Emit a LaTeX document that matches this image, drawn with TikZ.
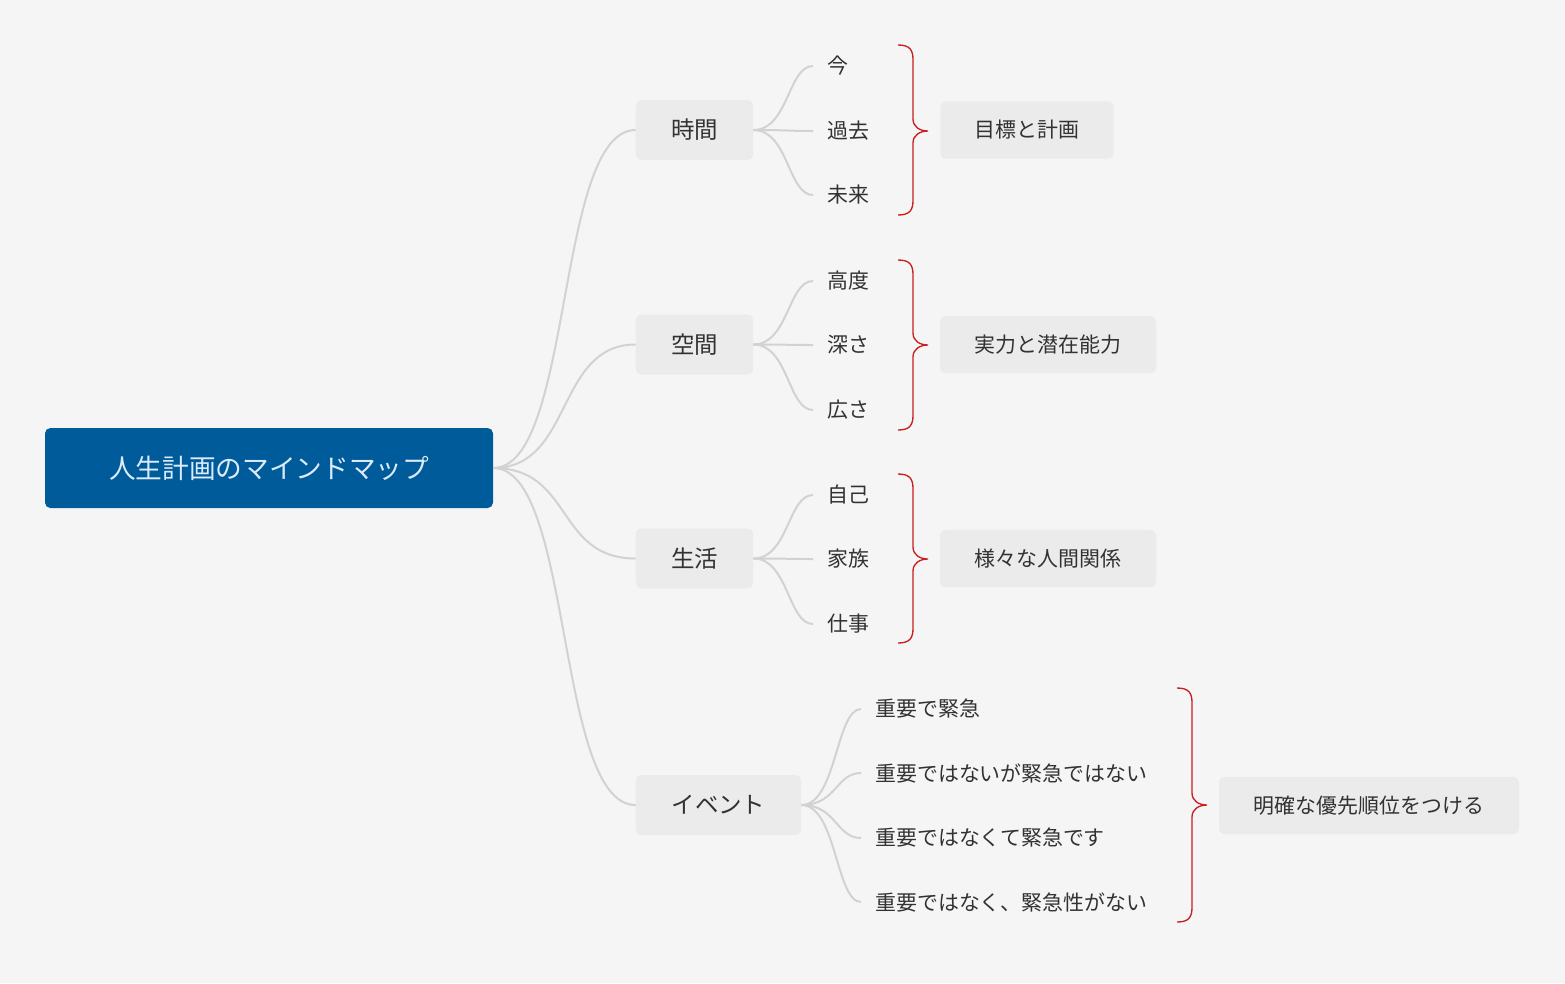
\documentclass[tikz,border=0pt]{standalone}
\usepackage{fontspec}
\newfontfamily\jp{Noto Sans CJK JP}
\definecolor{rootc}{RGB}{0,91,154}
\definecolor{roott}{RGB}{220,235,250}
\definecolor{topc}{RGB}{235,235,235}
\definecolor{txt}{RGB}{50,50,50}
\definecolor{lnc}{RGB}{210,210,210}
\definecolor{brc}{RGB}{200,30,30}
\definecolor{bg}{RGB}{245,245,245}
\begin{document}
\begin{tikzpicture}[x=0.75pt,y=-0.75pt,
  rootbox/.style={fill=rootc,rounded corners=4pt,text=roott,font=\jp\fontsize{20}{24}\selectfont,minimum width=336pt,minimum height=60pt,inner sep=0pt},
  topic/.style={fill=topc,rounded corners=4pt,text=txt,font=\jp\fontsize{17.6}{21}\selectfont,minimum height=45pt,inner sep=0pt},
  leaf/.style={anchor=west,text=txt,font=\jp\fontsize{15.7}{19}\selectfont,inner sep=0pt},
  conn/.style={draw=lnc,line width=1.5pt},
  br/.style={draw=brc,line width=1pt}]
\fill[bg] (0,0) rectangle (1565,983);
\useasboundingbox (0,0) rectangle (1565,983);
\node[rootbox] (root) at (269,468) {人生計画のマインドマップ};
\node[topic,minimum width=88pt] (t1) at (694.5,130) {時間};
\node[topic,minimum width=88pt] (t2) at (694.5,344.5) {空間};
\node[topic,minimum width=88pt] (t3) at (694.5,558.5) {生活};
\node[topic,minimum width=124pt] (t4) at (718.5,805) {イベント};
\foreach \t in {t1,t2,t3,t4}{\draw[conn] (root.east) .. controls +(80,0) and +(-80,0) .. (\t.west);}
\foreach \n/\tx/\y/\t in {a1/今/66/t1,a2/過去/131/t1,a3/未来/195/t1,b1/高度/281/t2,b2/深さ/345/t2,b3/広さ/410/t2,c1/自己/495/t3,c2/家族/559/t3,c3/仕事/624/t3}{
  \node[leaf] (\n) at (827,\y) {\tx};
  \coordinate (\n e) at (813,\y);
  \draw[conn] (\t.east) .. controls +(35,0) and +(-25,0) .. (\n e);}
\foreach \n/\tx/\y in {d1/重要で緊急/709,d2/重要ではないが緊急ではない/773,d3/重要ではなくて緊急です/838,d4/重要ではなく、緊急性がない/902}{
  \node[leaf] (\n) at (875,\y) {\tx};
  \coordinate (\n e) at (861,\y);
  \draw[conn] (t4.east) .. controls +(35,0) and +(-25,0) .. (\n e);}
\foreach \y/\a/\b in {131/45/215,345/260/430,559/474/643}{
  \draw[br] (898,\a) .. controls (910,\a) and (913,\a+5) .. (913,\a+15) -- (913,\y-12) .. controls (913,\y-4) and (920,\y) .. (928,\y) .. controls (920,\y) and (913,\y+4) .. (913,\y+12) -- (913,\b-15) .. controls (913,\b-5) and (910,\b) .. (898,\b);}
\draw[br] (1177,688) .. controls (1189,688) and (1192,693) .. (1192,703) -- (1192,793) .. controls (1192,801) and (1199,805) .. (1207,805) .. controls (1199,805) and (1192,809) .. (1192,817) -- (1192,907) .. controls (1192,917) and (1189,922) .. (1177,922);
\node[topic,minimum width=130pt,minimum height=43pt,font=\jp\fontsize{15.7}{19}\selectfont] (s1) at (1027,130) {目標と計画};
\node[topic,minimum width=162pt,minimum height=43pt,font=\jp\fontsize{15.7}{19}\selectfont] (s2) at (1048,344.5) {実力と潜在能力};
\node[topic,minimum width=162pt,minimum height=43pt,font=\jp\fontsize{15.7}{19}\selectfont] (s3) at (1048,558.5) {様々な人間関係};
\node[topic,minimum width=225pt,minimum height=43pt,font=\jp\fontsize{15.7}{19}\selectfont] (s4) at (1369,805.5) {明確な優先順位をつける};
\end{tikzpicture}
\end{document}
